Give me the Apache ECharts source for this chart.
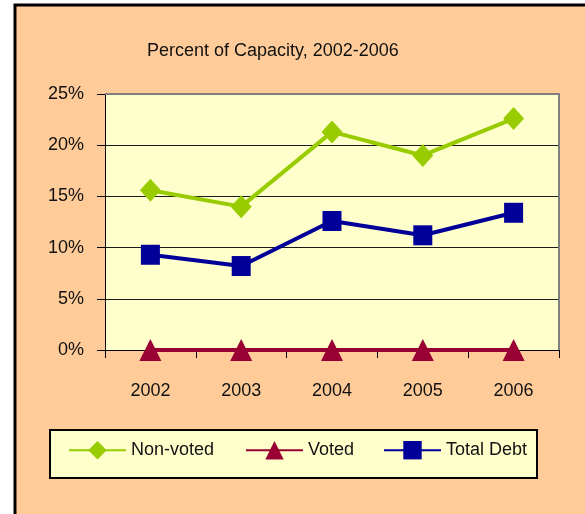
<!DOCTYPE html>
<html>
<head>
<meta charset="utf-8">
<script src="https://cdn.jsdelivr.net/npm/echarts@6/dist/echarts.min.js"></script>
<style>
html,body{margin:0;padding:0;background:#fff;}
#c{width:585px;height:514px;}
</style>
</head>
<body>
<div id="c"></div>
<script>
var categories = ['2002', '2003', '2004', '2005', '2006'];
var nonVoted = [15.6, 14.0, 21.3, 19.0, 22.6];
var voted = [0, 0, 0, 0, 0];
var totalDebt = [9.3, 8.2, 12.6, 11.2, 13.4];
var seriesNames = ['Non-voted', 'Voted', 'Total Debt'];
var titleText = 'Percent of Capacity, 2002-2006';

var FONT = "'Liberation Sans Narrow','Arial Narrow','Liberation Sans',sans-serif";
var chart = echarts.init(document.getElementById('c'), null, {renderer: 'canvas'});

function legendFor(name, left) {
  return {
    data: [name], left: left, top: 441, padding: 0,
    itemWidth: 57, itemHeight: 23,
    textStyle: {fontFamily: FONT, fontSize: 18, color: '#111'},
    selectedMode: false
  };
}

chart.setOption({
  backgroundColor: '#fff',
  animation: false,
  title: {
    text: titleText, left: 147, top: 42, padding: 0,
    textStyle: {fontFamily: FONT, fontSize: 18, fontWeight: 'normal', color: '#111'}
  },
  graphic: [
    {type: 'rect', z: -100, silent: true, shape: {x: 15, y: 5, width: 700, height: 600},
     style: {fill: '#FFCC99', stroke: '#000', lineWidth: 3}},
    {type: 'rect', z: -50, silent: true, shape: {x: 50, y: 430, width: 487, height: 48},
     style: {fill: '#FFFFCC', stroke: '#000', lineWidth: 2}},
    {type: 'polyline', z: 1, silent: true, shape: {points: [[105, 94], [559, 94], [559, 350]]},
     style: {stroke: '#808080', lineWidth: 2, fill: null}}
  ],
  legend: [legendFor(seriesNames[0], 68), legendFor(seriesNames[1], 245), legendFor(seriesNames[2], 383)],
  grid: {left: 105, top: 94, width: 454, height: 256, show: true, backgroundColor: '#FFFFCC', borderWidth: 0},
  xAxis: {
    type: 'category', data: categories, boundaryGap: true,
    axisLine: {lineStyle: {color: '#000', width: 1}},
    axisTick: {show: true, length: 8, lineStyle: {color: '#000'}},
    axisLabel: {margin: 32, fontFamily: FONT, fontSize: 18, color: '#111'}
  },
  yAxis: {
    type: 'value', min: 0, max: 25, interval: 5,
    axisLine: {show: true, lineStyle: {color: '#000', width: 1}},
    axisTick: {show: true, length: 8, lineStyle: {color: '#000'}},
    axisLabel: {margin: 21, formatter: '{value}%', fontFamily: FONT, fontSize: 18, color: '#111'},
    splitLine: {show: true, lineStyle: {color: '#1a1a1a', width: 1}}
  },
  series: [
    {name: seriesNames[0], type: 'line', data: nonVoted, symbol: 'diamond', symbolSize: [21, 23],
     lineStyle: {color: '#99CC00', width: 4}, itemStyle: {color: '#99CC00'}, z: 3},
    {name: seriesNames[1], type: 'line', data: voted, symbol: 'triangle', symbolSize: [22, 22],
     lineStyle: {color: '#990033', width: 4}, itemStyle: {color: '#990033'}, z: 3, clip: false},
    {name: seriesNames[2], type: 'line', data: totalDebt, symbol: 'rect', symbolSize: [19, 20],
     lineStyle: {color: '#000099', width: 4}, itemStyle: {color: '#000099'}, z: 3}
  ]
});
</script>
</body>
</html>
